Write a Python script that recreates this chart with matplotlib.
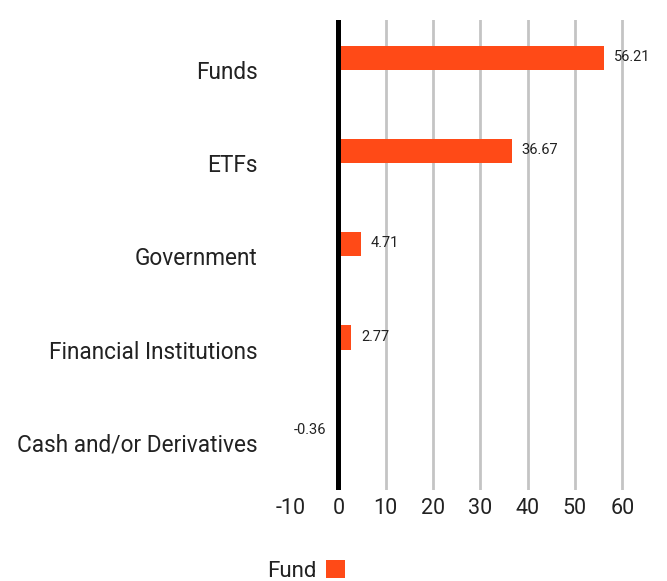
import matplotlib
matplotlib.use("Agg")
import matplotlib.pyplot as plt
from matplotlib.patches import Patch
import numpy as np

categories = ["Funds", "ETFs", "Government", "Financial Institutions", "Cash and/or Derivatives"]
values = [56.21, 36.67, 4.71, 2.77, -0.36]
value_labels = ["56.21", "36.67", "4.71", "2.77", "-0.36"]
xticks = [-10, 0, 10, 20, 30, 40, 50, 60]
series_name = "Fund"

BAR = "#ff4a17"
TXT = "#222222"
plt.rcParams["font.family"] = ["Roboto", "DejaVu Sans"]

fig = plt.figure(figsize=(6.67, 5.81), dpi=100)
ax = fig.add_axes([291 / 667, 1 - 490 / 581, (627 - 291) / 667, 470 / 581])

idx = np.arange(len(categories))
h = 0.26
ax.barh(idx - h, values, height=h, align="edge", color=BAR, zorder=3)

ax.set_xlim(-10, 61)
ax.set_ylim(4.505, -0.536)
ax.set_xticks(xticks)
ax.set_xticklabels([str(t) for t in xticks], fontsize=15.5, color=TXT)
ax.set_yticks(idx)
ax.set_yticklabels(categories, fontsize=16.3, color=TXT)
ax.tick_params(axis="x", length=0, pad=6)
ax.tick_params(axis="y", length=0, pad=24)
for s in ax.spines.values():
    s.set_visible(False)

ax.grid(axis="x", color="#c4c4c4", linewidth=2, zorder=1)
ax.grid(axis="y", visible=False)
for t in ax.xaxis.get_major_ticks():
    if t.get_loc() in (-10, 0):
        t.gridline.set_visible(False)
ax.axvline(0, color="black", linewidth=3.6, zorder=4)

for i, (v, lab) in enumerate(zip(values, value_labels)):
    off = 10 if v >= 0 else -10
    ax.annotate(lab, (v, i - h / 2), xytext=(off, 1), textcoords="offset pixels",
                ha="left" if v >= 0 else "right", va="center", fontsize=10.5, color=TXT)

handles = [Patch(facecolor=BAR, label=series_name)]
fig.legend(handles=handles, loc="center", bbox_to_anchor=(306 / 667, 1 - 571 / 581),
           markerfirst=False, frameon=False, handlelength=0.85, handleheight=0.85,
           handletextpad=0.45, fontsize=16, labelcolor=TXT)

fig.savefig("out.png", dpi=100)
